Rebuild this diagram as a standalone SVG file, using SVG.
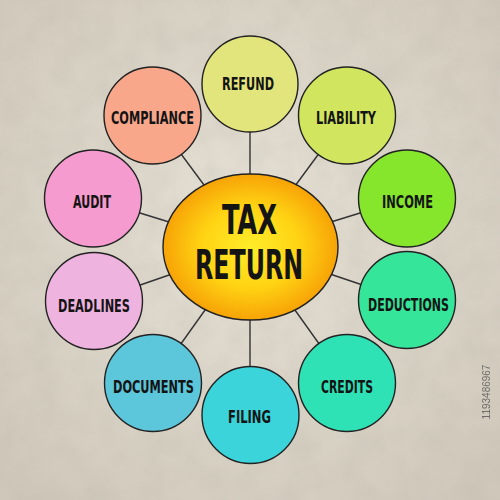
<svg xmlns="http://www.w3.org/2000/svg" width="500" height="500" viewBox="0 0 500 500">
<defs>
<radialGradient id="bg" cx="50%" cy="45%" r="70%">
<stop offset="0" stop-color="#e6e1d6"/>
<stop offset="1" stop-color="#cfc8ba"/>
</radialGradient>
<radialGradient id="core" cx="50%" cy="50%" r="50%">
<stop offset="0" stop-color="#ffec2a"/>
<stop offset="0.55" stop-color="#ffd414"/>
<stop offset="1" stop-color="#f7a306"/>
</radialGradient>
<filter id="paper" x="0" y="0" width="100%" height="100%">
<feTurbulence type="fractalNoise" baseFrequency="0.035" numOctaves="3" seed="4"/>
<feColorMatrix type="matrix" values="0 0 0 0 0.45  0 0 0 0 0.42  0 0 0 0 0.36  0 0 0 0.9 -0.3"/>
</filter>
<style>
.n{stroke:#222;stroke-width:1.4}
.lbl{font-family:"Liberation Sans Narrow","DejaVu Sans Condensed","Liberation Sans",sans-serif;font-weight:bold;font-size:18px;fill:#141414;text-anchor:middle}
.big{font-family:"Liberation Sans Narrow","DejaVu Sans Condensed","Liberation Sans",sans-serif;font-weight:bold;font-size:40px;fill:#141414;text-anchor:middle}
.con line{stroke:#333;stroke-width:1.4}
</style>
</defs>
<rect width="500" height="500" fill="url(#bg)"/>
<rect width="500" height="500" filter="url(#paper)" opacity="0.35"/>
<g class="con" id="connectors">
<line x1="250" y1="247" x2="250" y2="84"/>
<line x1="250" y1="247" x2="347" y2="115.5"/>
<line x1="250" y1="247" x2="407" y2="198.5"/>
<line x1="250" y1="247" x2="407" y2="300"/>
<line x1="250" y1="247" x2="347" y2="383"/>
<line x1="250" y1="247" x2="250" y2="415"/>
<line x1="250" y1="247" x2="153" y2="383"/>
<line x1="250" y1="247" x2="94" y2="301"/>
<line x1="250" y1="247" x2="93" y2="198.5"/>
<line x1="250" y1="247" x2="152.5" y2="115.5"/>
</g>
<g id="refund"><circle class="n" cx="250" cy="84" r="48" fill="#e2e47c"/><text class="lbl" x="248" y="90" textLength="52" lengthAdjust="spacingAndGlyphs">REFUND</text></g>
<g id="liability"><circle class="n" cx="347" cy="115.5" r="48.5" fill="#d1e65e"/><text class="lbl" x="346" y="124" textLength="60" lengthAdjust="spacingAndGlyphs">LIABILITY</text></g>
<g id="income"><circle class="n" cx="407" cy="198.5" r="48.5" fill="#86e62c"/><text class="lbl" x="407.5" y="208" textLength="51" lengthAdjust="spacingAndGlyphs">INCOME</text></g>
<g id="deductions"><circle class="n" cx="407" cy="300" r="48.5" fill="#35e69a"/><text class="lbl" x="408.5" y="311" textLength="81" lengthAdjust="spacingAndGlyphs">DEDUCTIONS</text></g>
<g id="credits"><circle class="n" cx="347" cy="383" r="48.5" fill="#2ee2b6"/><text class="lbl" x="347" y="393" textLength="52" lengthAdjust="spacingAndGlyphs">CREDITS</text></g>
<g id="filing"><circle class="n" cx="250.5" cy="415" r="48.5" fill="#3ad4da"/><text class="lbl" x="249.5" y="423" textLength="43" lengthAdjust="spacingAndGlyphs">FILING</text></g>
<g id="documents"><circle class="n" cx="153" cy="383" r="48.5" fill="#5cc6da"/><text class="lbl" x="153.5" y="393" textLength="81" lengthAdjust="spacingAndGlyphs">DOCUMENTS</text></g>
<g id="deadlines"><circle class="n" cx="94" cy="301" r="48.5" fill="#efb3df"/><text class="lbl" x="94" y="312" textLength="72" lengthAdjust="spacingAndGlyphs">DEADLINES</text></g>
<g id="audit"><circle class="n" cx="93" cy="198.5" r="48.5" fill="#f69bcf"/><text class="lbl" x="92" y="208" textLength="38" lengthAdjust="spacingAndGlyphs">AUDIT</text></g>
<g id="compliance"><circle class="n" cx="152.5" cy="115.5" r="48.5" fill="#f8a78b"/><text class="lbl" x="152.5" y="124" textLength="83" lengthAdjust="spacingAndGlyphs">COMPLIANCE</text></g>
<g id="tax-return"><ellipse class="n" cx="250.5" cy="247" rx="87.5" ry="73" fill="url(#core)"/>
<text class="big" x="249.5" y="234" textLength="55" lengthAdjust="spacingAndGlyphs">TAX</text>
<text class="big" x="249" y="279" textLength="108" lengthAdjust="spacingAndGlyphs">RETURN</text></g>
<text x="490" y="392" transform="rotate(-90 490 392)" font-family="Liberation Sans,sans-serif" font-size="10" fill="#555" text-anchor="middle" opacity="0.8">1193486967</text>
</svg>
